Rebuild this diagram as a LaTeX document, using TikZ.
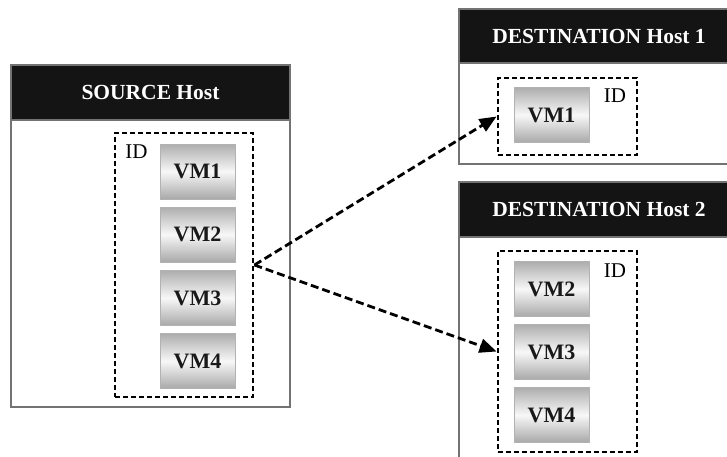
\documentclass[tikz,border=0pt]{standalone}
\usepackage{fontspec}
\setmainfont{Liberation Serif}
\usetikzlibrary{arrows.meta}
\begin{document}
\begin{tikzpicture}[x=1pt,y=-1pt,
  hostbox/.style={draw=black!55,line width=1.3pt,fill=white,minimum width=280pt,inner sep=0pt},
  hosthead/.style={draw=black!55,line width=1.3pt,fill=black!92,text=white,font=\fontsize{21.5}{21.5}\selectfont\bfseries,minimum width=280pt,minimum height=55pt,inner sep=0pt},
  idbox/.style={draw,line width=2.8pt,dash pattern=on 5pt off 3pt,minimum width=139pt,inner sep=0pt},
  vmbox/.style={draw=black!30,line width=0.8pt,top color=black!32,bottom color=black!34,middle color=black!3,minimum width=75pt,minimum height=55pt,inner sep=0pt,text=black!90,font=\fontsize{22}{22}\selectfont\bfseries},
  idlab/.style={font=\fontsize{21}{21}\selectfont,inner sep=0pt},
  migrate/.style={line width=2.8pt,dash pattern=on 8pt off 4pt,-{Triangle[length=17pt,width=14pt]}}]
\useasboundingbox (0,0) rectangle (727,456);
% hosts
\node[hostbox,minimum width=279pt,minimum height=342pt] (src) at (150.5,236) {};
\node[hosthead,minimum width=279pt] (srchead) at (150.5,92.5) {SOURCE Host};
\node[hostbox,minimum height=155pt] (dst1) at (599,86.5) {};
\node[hosthead,minimum height=54pt] (dst1head) at (599,36) {DESTINATION Host 1};
\node[hostbox,minimum height=290pt] (dst2) at (599,327) {};
\node[hosthead] (dst2head) at (599,209.5) {DESTINATION Host 2};
% isolation domains
\node[idbox,minimum width=138pt,minimum height=264pt] (srcid) at (184,265) {};
\node[idbox,minimum height=77pt] (dst1id) at (567.5,116.5) {};
\node[idbox,minimum height=201pt] (dst2id) at (567.5,351.5) {};
\node[idlab] (srcidlab) at (136.5,152) {ID};
\node[idlab] (dst1idlab) at (615,96) {ID};
\node[idlab] (dst2idlab) at (615,271) {ID};
% virtual machines
\foreach \v/\y in {1/171.5,2/234.5,3/298,4/361}{
  \node[vmbox] (svm\v) at (197.5,\y) {VM\v};}
\node[vmbox] (d1vm1) at (551.5,115) {VM1};
\foreach \v/\y in {2/289,3/352,4/415}{
  \node[vmbox] (d2vm\v) at (551.5,\y) {VM\v};}
\draw[migrate] (srcid.east) -- (dst1id.west);
\draw[migrate] (srcid.east) -- (dst2id.west);
\end{tikzpicture}
\end{document}
